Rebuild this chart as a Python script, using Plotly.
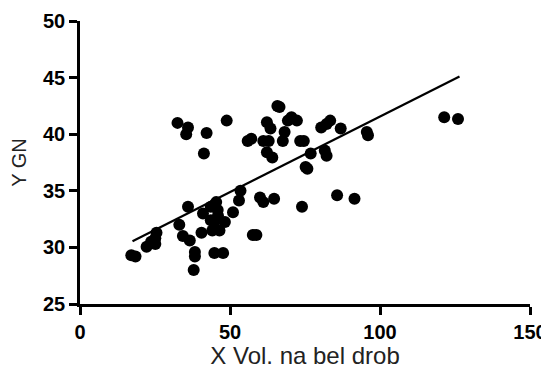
import plotly.graph_objects as go

x_vol = [17.1, 18.5, 22.2, 23.7, 25.1, 25.5, 25.1, 32.5, 36.0, 35.4, 36.0, 33.1, 34.3, 36.6,
         38.3, 38.3, 37.9, 42.2, 41.3, 40.5, 41.0, 43.6, 45.4, 43.6, 44.8, 45.9, 44.1, 46.5,
         44.8, 47.7, 48.3, 48.9, 51.0, 53.5, 53.0, 55.9, 57.1, 57.6, 58.8, 60.0, 61.1, 62.3,
         61.1, 62.9, 62.3, 64.1, 63.5, 65.8, 64.7, 67.6, 68.2, 69.3, 70.5, 72.3, 73.4, 74.6,
         74.0, 75.2, 75.8, 76.9, 80.4, 82.2, 83.4, 81.6, 82.2, 85.7, 86.9, 91.5, 95.6, 96.0,
         121.4, 126.0, 45.0, 46.0, 66.5]
y_gn = [29.3, 29.2, 30.05, 30.5, 30.8, 31.3, 30.3, 41.0, 40.6, 40.0, 33.6, 32.0, 31.0, 30.6,
        29.6, 29.2, 28.0, 40.1, 38.3, 31.3, 33.0, 33.6, 34.0, 32.4, 32.25, 33.3, 31.5, 31.5,
        29.5, 29.5, 32.25, 41.2, 33.1, 35.0, 34.15, 39.4, 39.6, 31.1, 31.1, 34.4, 34.0, 41.05,
        39.4, 39.4, 38.4, 37.95, 40.5, 42.5, 34.3, 39.4, 40.2, 41.2, 41.5, 41.2, 39.4, 39.4,
        33.6, 37.1, 36.95, 38.3, 40.6, 40.9, 41.2, 38.55, 38.1, 34.6, 40.5, 34.3, 40.2, 39.9,
        41.5, 41.35, 33.8, 32.8, 42.4]

fit_x = [17.5, 126.5]
fit_y = [30.55, 45.1]

x_ticks = [0, 50, 100, 150]
y_ticks = [25, 30, 35, 40, 45, 50]

fig = go.Figure()
fig.add_trace(go.Scatter(x=x_vol, y=y_gn, mode="markers", cliponaxis=False,
                         marker=dict(color="black", size=12), showlegend=False))
fig.add_trace(go.Scatter(x=fit_x, y=fit_y, mode="lines",
                         line=dict(color="black", width=2.2), showlegend=False))

axis_common = dict(showline=True, linecolor="black", linewidth=2.5, ticks="outside",
                   ticklen=8, tickwidth=2.5, tickcolor="black", showgrid=False,
                   zeroline=False, automargin=False,
                   tickfont=dict(family="Liberation Sans", size=20, color="black", weight="bold"))

fig.update_xaxes(range=[0, 150], tickvals=x_ticks, title_text="X Vol. na bel drob",
                 title_standoff=11,
                 title_font=dict(family="Liberation Sans", size=24, color="#222"),
                 **axis_common)
fig.update_yaxes(range=[25, 50], tickvals=y_ticks, title_text="Y GN",
                 title_standoff=13,
                 title_font=dict(family="Liberation Sans", size=20, color="#222"),
                 **axis_common)

# page body has an 8px margin, so the figure is sized to fit the 549x369 window
fig.update_layout(width=541, height=361, plot_bgcolor="white", paper_bgcolor="white",
                  template="none",
                  margin=dict(l=72, r=19, t=13, b=65))

fig.write_html("out.html")
